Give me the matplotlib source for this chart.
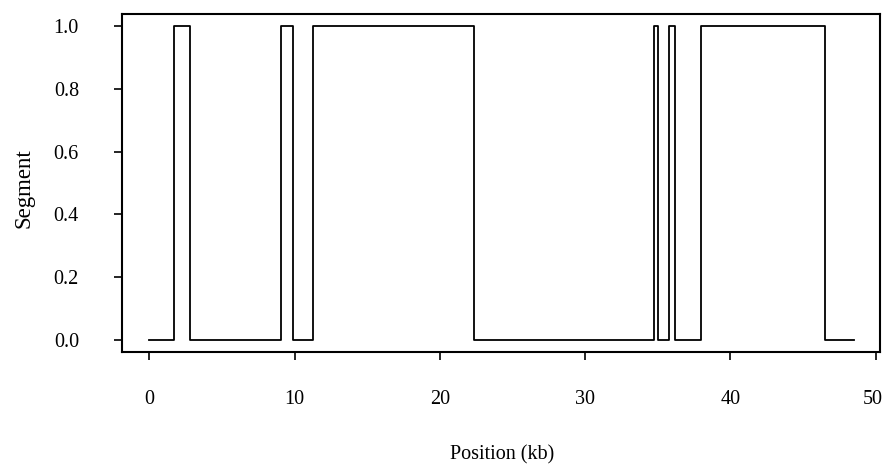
import matplotlib
matplotlib.use("Agg")
import matplotlib.pyplot as plt
from matplotlib.transforms import ScaledTranslation

# change points (kb) and the segment value holding from each point onwards
positions = [0, 1.72, 2.82, 9.04, 9.91, 11.27, 22.35, 34.72, 34.99, 35.77, 36.21, 37.96, 46.48, 48.5]
segment   = [0, 1, 0, 1, 0, 1, 0, 1, 0, 1, 0, 1, 0, 0]
xticks = [0, 10, 20, 30, 40, 50]
yticks = [0.0, 0.2, 0.4, 0.6, 0.8, 1.0]

plt.rcParams['font.family'] = ['Liberation Serif', 'DejaVu Serif']

fig = plt.figure(figsize=(8.84, 4.66), dpi=100)
ax = fig.add_axes([122/884, 1 - 352/466, (880 - 122)/884, (352 - 14)/466])

ax.plot(positions, segment, drawstyle='steps-post', color='black', lw=1.3)

ax.set_xlim(-1.88, 50.29)
ax.set_ylim(-0.038, 1.038)
ax.set_xticks(xticks)
ax.set_xticklabels([str(t) for t in xticks])
ax.set_yticks(yticks)
ax.set_yticklabels([f"{t:.1f}" for t in yticks])
ax.tick_params(axis='both', direction='out', length=6, width=1.2, labelsize=14.5, colors='black')
ax.tick_params(axis='x', pad=21)
ax.tick_params(axis='y', pad=25)
for s in ax.spines.values():
    s.set_linewidth(1.5)
    s.set_color('black')

last = ax.get_xticklabels()[-1]
last.set_transform(last.get_transform() + ScaledTranslation(-2.5/72, 0, fig.dpi_scale_trans))

fig.text(24/884, 1 - 188/466, 'Segment', rotation=90, ha='center', va='center', fontsize=16.5)
fig.text(502/884, 1 - 455/466, 'Position (kb)', ha='center', va='center', fontsize=14.5)

fig.savefig('out.png', dpi=100)
